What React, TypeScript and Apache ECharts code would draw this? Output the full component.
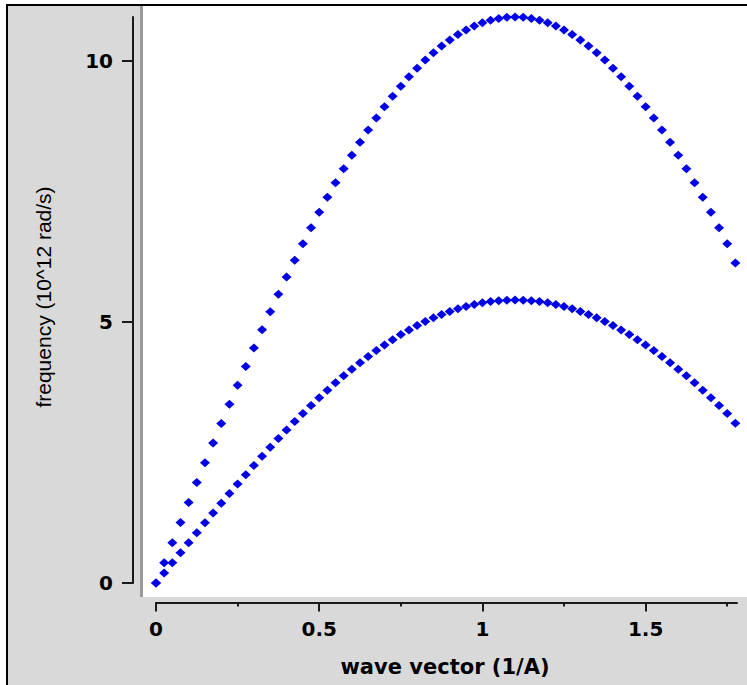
import React, { useEffect, useRef } from "react";
import * as echarts from "echarts";

// wave vector k (1/A)
const waveVector = [
  0, 0.025, 0.05, 0.075, 0.1, 0.125, 0.15, 0.175, 0.2, 0.225, 0.25, 0.275,
  0.3, 0.325, 0.35, 0.375, 0.4, 0.425, 0.45, 0.475, 0.5, 0.525, 0.55, 0.575,
  0.6, 0.625, 0.65, 0.675, 0.7, 0.725, 0.75, 0.775, 0.8, 0.825, 0.85, 0.875,
  0.9, 0.925, 0.95, 0.975, 1.0, 1.025, 1.05, 1.075, 1.1, 1.125, 1.15, 1.175,
  1.2, 1.225, 1.25, 1.275, 1.3, 1.325, 1.35, 1.375, 1.4, 1.425, 1.45, 1.475,
  1.5, 1.525, 1.55, 1.575, 1.6, 1.625, 1.65, 1.675, 1.7, 1.725, 1.75, 1.775,
];

// upper branch frequency (10^12 rad/s)
const upperBranch = [
  0, 0.387, 0.773, 1.159, 1.543, 1.925, 2.304, 2.681, 3.054, 3.423, 3.788,
  4.148, 4.503, 4.852, 5.195, 5.531, 5.861, 6.182, 6.496, 6.802, 7.099, 7.387,
  7.665, 7.934, 8.192, 8.441, 8.678, 8.904, 9.119, 9.323, 9.514, 9.694, 9.86,
  10.015, 10.157, 10.285, 10.401, 10.503, 10.592, 10.668, 10.73, 10.778,
  10.812, 10.833, 10.84, 10.833, 10.812, 10.778, 10.73, 10.668, 10.592,
  10.503, 10.401, 10.285, 10.157, 10.015, 9.86, 9.694, 9.514, 9.323, 9.119,
  8.904, 8.678, 8.441, 8.192, 7.934, 7.665, 7.387, 7.099, 6.802, 6.496, 6.13,
];

// lower branch frequency (10^12 rad/s)
const lowerBranch = [
  0, 0.193, 0.387, 0.579, 0.771, 0.962, 1.152, 1.34, 1.527, 1.712, 1.894,
  2.074, 2.252, 2.426, 2.598, 2.766, 2.93, 3.091, 3.248, 3.401, 3.549, 3.693,
  3.833, 3.967, 4.096, 4.22, 4.339, 4.452, 4.56, 4.661, 4.757, 4.847, 4.93,
  5.007, 5.078, 5.143, 5.2, 5.252, 5.296, 5.334, 5.365, 5.389, 5.406, 5.417,
  5.42, 5.417, 5.406, 5.389, 5.365, 5.334, 5.296, 5.252, 5.2, 5.143, 5.078,
  5.007, 4.93, 4.847, 4.757, 4.661, 4.56, 4.452, 4.339, 4.22, 4.096, 3.967,
  3.833, 3.693, 3.549, 3.401, 3.248, 3.06,
];

const xMajorTicks = [0, 0.5, 1, 1.5];
const xMinorTicks = [0.25, 0.75, 1.25, 1.75];
const yTicks = [0, 5, 10];
const xTitle = "wave vector (1/A)";
const yTitle = "frequency (10^12 rad/s)";

export default function App() {
  const ref = useRef<HTMLDivElement>(null);

  useEffect(() => {
    const chart = echarts.init(ref.current!, null, { renderer: "svg" });
    const axisColor = "#1a1a1a";
    const tickFont = {
      fontFamily: "DejaVu Sans",
      fontWeight: "bold" as const,
      fontSize: 20,
      color: "#000",
    };
    const upper = waveVector.map((k, i) => [k, upperBranch[i]]);
    const lower = waveVector.map((k, i) => [k, lowerBranch[i]]);

    chart.setOption({
      animation: false,
      backgroundColor: "#ffffff",
      graphic: [
        {
          type: "rect",
          z: -10,
          silent: true,
          shape: { x: 7, y: 5, width: 745, height: 685 },
          style: { fill: "#d9d9d9", stroke: "#000", lineWidth: 2 },
        },
        {
          type: "rect",
          z: -9,
          silent: true,
          shape: { x: 140, y: 6, width: 4, height: 591 },
          style: { fill: "#9a9a9a" },
        },
        {
          type: "rect",
          z: -8,
          silent: true,
          shape: { x: 143, y: 6, width: 610, height: 591 },
          style: { fill: "#ffffff" },
        },
        {
          type: "text",
          z: 10,
          x: 445,
          y: 667,
          style: {
            text: xTitle,
            font: 'bold 21px "DejaVu Sans"',
            fill: "#000",
            align: "center",
            verticalAlign: "middle",
          },
        },
        {
          type: "text",
          z: 10,
          x: 43,
          y: 297,
          rotation: Math.PI / 2,
          style: {
            text: yTitle,
            font: '21px "Liberation Sans"',
            fill: "#000",
            align: "center",
            verticalAlign: "middle",
          },
        },
      ],
      grid: { left: 156, right: 10, top: 17, bottom: 102, containLabel: false },
      xAxis: [
        {
          type: "value",
          min: 0,
          max: 1.78,
          position: "bottom",
          offset: 19.5,
          axisLine: { show: true, onZero: false, lineStyle: { color: axisColor, width: 2 } },
          axisTick: {
            show: true,
            length: 9,
            customValues: xMajorTicks,
            lineStyle: { color: axisColor, width: 2 },
          },
          axisLabel: { show: true, customValues: xMajorTicks, margin: 16, ...tickFont },
          splitLine: { show: false },
        },
        {
          type: "value",
          min: 0,
          max: 1.78,
          position: "bottom",
          offset: 19.5,
          axisLine: { show: false, onZero: false },
          axisTick: {
            show: true,
            length: 4,
            customValues: xMinorTicks,
            lineStyle: { color: axisColor, width: 2 },
          },
          axisLabel: { show: false },
          splitLine: { show: false },
        },
      ],
      yAxis: {
        type: "value",
        min: 0,
        max: 10.84,
        position: "left",
        offset: 23,
        axisLine: { show: true, onZero: false, lineStyle: { color: axisColor, width: 2 } },
        axisTick: {
          show: true,
          length: 11,
          customValues: yTicks,
          lineStyle: { color: axisColor, width: 2 },
        },
        axisLabel: { show: true, customValues: yTicks, margin: 20, ...tickFont },
        splitLine: { show: false },
      },
      series: [
        {
          type: "scatter",
          name: "upper",
          xAxisIndex: 0,
          data: upper,
          symbol: "diamond",
          symbolSize: [10, 9],
          itemStyle: { color: "#0000e6", opacity: 1 },
        },
        {
          type: "scatter",
          name: "lower",
          xAxisIndex: 0,
          data: lower,
          symbol: "diamond",
          symbolSize: [10, 9],
          itemStyle: { color: "#0000e6", opacity: 1 },
        },
      ],
    });

    return () => chart.dispose();
  }, []);

  return (
    <div
      ref={ref}
      style={{ position: "fixed", left: 0, top: 0, width: 747, height: 685 }}
    />
  );
}
